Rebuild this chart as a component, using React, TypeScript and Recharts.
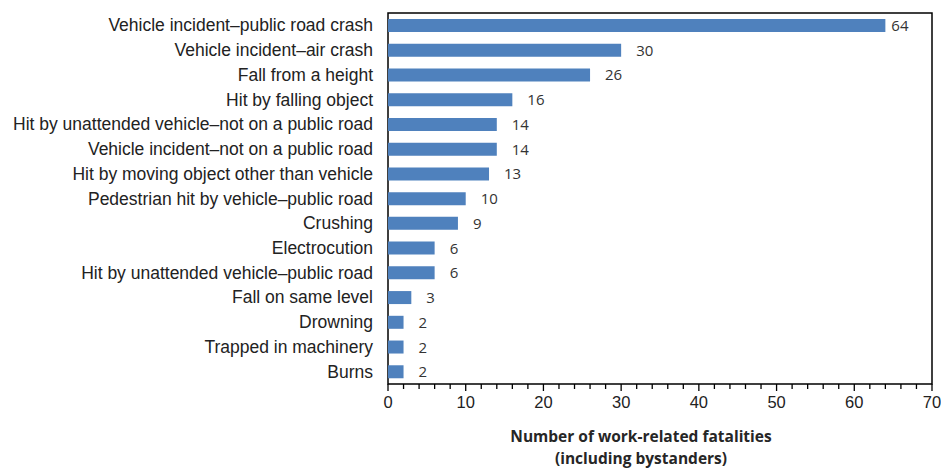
import { BarChart, Bar, XAxis, YAxis, LabelList, ReferenceArea } from "recharts"

const categories = [
  "Vehicle incident–public road crash",
  "Vehicle incident–air crash",
  "Fall from a height",
  "Hit by falling object",
  "Hit by unattended vehicle–not on a public road",
  "Vehicle incident–not on a public road",
  "Hit by moving object other than vehicle",
  "Pedestrian hit by vehicle–public road",
  "Crushing",
  "Electrocution",
  "Hit by unattended vehicle–public road",
  "Fall on same level",
  "Drowning",
  "Trapped in machinery",
  "Burns",
]

const fatalities = [64, 30, 26, 16, 14, 14, 13, 10, 9, 6, 6, 3, 2, 2, 2]

// ticks every 2, labelled every 10
const xTicks = [
  0, 2, 4, 6, 8, 10, 12, 14, 16, 18, 20, 22, 24, 26, 28, 30, 32, 34, 36, 38, 40, 42, 44, 46, 48, 50, 52, 54, 56, 58,
  60, 62, 64, 66, 68, 70,
]
const xLabelled = [0, 10, 20, 30, 40, 50, 60, 70]

const data = categories.map((name, i) => ({ name, value: fatalities[i] }))
const maxValue = Math.max(...fatalities)

const sans = { fontFamily: "'Liberation Sans', Arial, sans-serif" }
const calibriLike = { fontFamily: "'Open Sans', sans-serif" }

const XTick = (props: any) => {
  const { x, y, payload } = props
  const major = xLabelled.includes(payload.value)
  return (
    <g>
      <line x1={x} x2={x} y1={y - 8} y2={y - 8 + (major ? 7 : 5)} stroke="#000" strokeWidth={1.3} />
      {major && (
        <text x={x} y={y + 16} textAnchor="middle" fontSize={16.5} fill="#222" style={sans}>
          {payload.value}
        </text>
      )}
    </g>
  )
}

const YTick = (props: any) => {
  const { x, y, payload } = props
  return (
    <text x={x - 7} y={y} dy={6} textAnchor="end" fontSize={17.5} fill="#222" style={sans}>
      {payload.value}
    </text>
  )
}

const ValueLabel = (props: any) => {
  const { x, y, width, height, value } = props
  const gap = value === maxValue ? 6 : 15
  return (
    <text x={x + width + gap} y={y + height / 2} dy={5.5} fontSize={15} fill="#333" style={calibriLike}>
      {value}
    </text>
  )
}

const AxisTitle = (props: any) => {
  const { viewBox } = props
  const cx = 641
  return (
    <text textAnchor="middle" fontSize={15.5} fontWeight="bold" fill="#262626" style={calibriLike}>
      <tspan x={cx} y={viewBox.y + 58}>Number of work-related fatalities</tspan>
      <tspan x={cx} y={viewBox.y + 80}>(including bystanders)</tspan>
    </text>
  )
}

export default function App() {
  return (
    <div>
      <style>{`body{margin:0}`}</style>
      <BarChart
        width={941}
        height={468}
        data={data}
        layout="vertical"
        margin={{ top: 13, right: 9, bottom: 0, left: 0 }}
      >
        <XAxis
          type="number"
          domain={[0, 70]}
          ticks={xTicks}
          interval={0}
          tick={<XTick />}
          tickLine={false}
          axisLine={false}
          height={84}
          label={<AxisTitle />}
        />
        <YAxis
          type="category"
          dataKey="name"
          width={388}
          tick={<YTick />}
          tickLine={false}
          axisLine={false}
          interval={0}
        />
        <ReferenceArea x1={0} x2={70} fill="none" stroke="#000" strokeWidth={1.5} ifOverflow="visible" />
        <Bar dataKey="value" fill="#4f81bd" barSize={13} isAnimationActive={false}>
          <LabelList dataKey="value" content={<ValueLabel />} />
        </Bar>
      </BarChart>
    </div>
  )
}
